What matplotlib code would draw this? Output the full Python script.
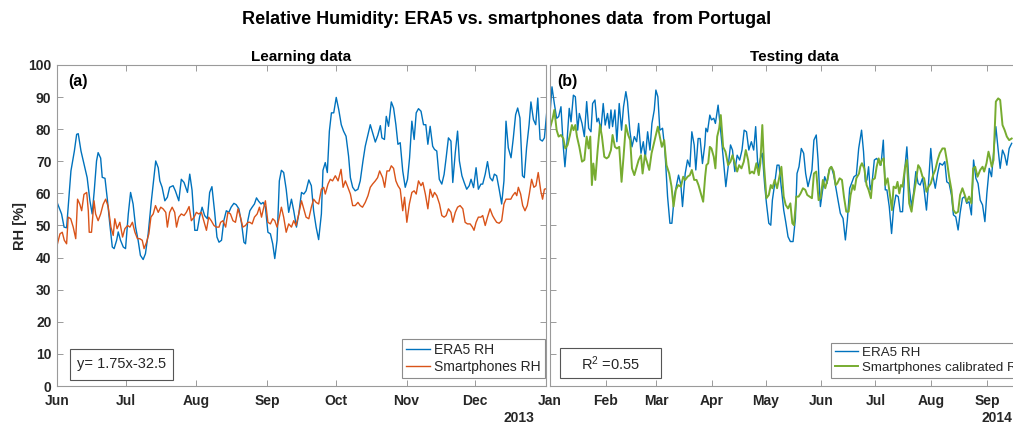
import matplotlib
matplotlib.use("Agg")
import matplotlib.pyplot as plt
from matplotlib.patches import Rectangle

plt.rcParams['font.family'] = ['Liberation Sans', 'DejaVu Sans']
plt.rcParams['mathtext.fontset'] = 'custom'
plt.rcParams['mathtext.rm'] = 'Liberation Sans'
plt.rcParams['mathtext.it'] = 'Liberation Sans'

# ---------------- data ----------------
# Learning period: day 0 = 1 Jun
era5_learn_day = [0.2,2.0,3.1,4.2,6.1,7.6,8.6,9.3,10.5,12.0,13.2,14.4,15.4,16.3,17.3,18.0,19.1,19.8,21.0,22.1,23.1,24.2,25.0,26.1,26.8,27.8,29.0,30.0,31.2,32.2,33.3,34.4,35.5,36.5,37.7,38.7,39.9,41.3,42.4,43.2,44.3,45.0,46.0,47.2,48.3,49.3,50.8,51.8,53.3,54.4,55.6,57.1,58.1,59.1,60.3,61.4,62.4,63.5,64.6,65.8,66.8,67.8,69.0,70.0,70.9,
    72.0,73.0,74.1,75.2,76.2,77.4,78.4,79.6,80.8,81.8,82.5,83.5,84.4,85.4,86.4,87.3,88.3,89.3,90.2,91.2,92.3,93.4,94.4,95.3,96.3,97.3,98.2,99.2,100.3,101.4,102.6,103.6,104.8,105.8,107.0,108.0,109.0,110.2,111.3,112.3,113.4,114.5,115.7,116.4,117.4,118.3,119.2,120.1,121.1,122.2,123.3,124.4,125.4,126.5,127.6,128.4,129.4,130.5,131.7,132.7,133.9,134.9,136.1,137.1,138.1,139.3,140.4,141.5,142.2,143.3,
    144.1,145.1,146.3,147.3,148.3,149.2,150.2,151.3,152.4,153.4,154.3,155.3,156.3,157.2,158.2,159.3,160.4,161.4,162.3,163.3,164.4,165.2,166.2,167.3,168.4,169.4,170.3,171.3,172.4,173.2,174.3,175.3,176.1,177.2,178.2,179.3,180.4,181.2,182.3,183.4,184.4,185.5,186.3,187.4,188.4,189.5,190.6,191.4,192.4,193.5,194.6,195.6,196.5,197.5,198.7,199.7,200.7,201.6,202.6,203.7,204.5,205.5,206.6,207.4,208.5,209.5,210.4,211.4,212.4,213.3,214.3]
era5_learn = [56.9,53.6,49.5,49.3,67.0,73.2,78.4,78.6,73.2,68.6,64.9,57.7,53.6,60.8,70.1,72.7,71.0,65.0,64.7,57.7,50.5,43.3,42.8,45.4,48.0,45.4,43.3,42.8,53.6,60.3,56.7,49.5,45.4,40.7,39.4,41.2,47.4,57.7,64.9,70.1,68.0,63.9,61.9,57.7,58.8,61.9,62.4,60.8,57.7,64.4,63.4,60.3,66.0,61.0,48.5,48.5,52.6,55.7,53.1,52.1,60.3,62.1,54.1,46.4,44.8,
    45.4,51.5,54.6,54.1,55.7,56.9,56.5,55.2,50.5,44.8,44.3,51.5,54.6,55.7,56.7,58.6,57.5,56.7,57.2,55.7,47.9,47.4,44.3,39.7,45.4,63.9,67.2,66.5,61.3,54.1,58.2,54.6,49.5,53.6,60.3,59.8,60.8,64.2,62.4,54.6,49.5,45.6,53.6,67.2,69.6,66.5,79.4,85.1,85.1,89.9,86.1,81.4,79.4,77.8,71.6,64.9,61.9,60.8,61.3,63.9,70.1,74.7,78.4,81.4,78.9,76.0,78.1,81.1,77.3,76.8,
    84.0,80.9,88.5,86.6,81.4,75.3,75.8,67.0,61.9,64.4,71.1,82.5,76.8,85.1,86.4,85.6,81.4,81.4,75.3,80.9,74.7,73.7,73.2,64.4,62.9,65.9,71.1,77.3,76.3,63.4,72.7,79.4,70.1,65.5,63.4,61.3,62.4,64.4,61.8,68.0,61.3,62.9,62.9,66.0,69.9,64.9,63.9,66.0,65.5,61.3,56.7,63.9,82.5,74.2,71.1,77.3,84.5,86.6,83.5,65.5,64.9,74.2,81.4,88.5,83.0,81.4,89.7,76.8,76.3,77.3,85.1]

phone_learn_day = [0.2,1.3,2.3,3.2,4.2,4.9,6.0,7.1,8.2,9.0,10.0,10.8,11.8,13.0,13.7,14.1,15.1,16.2,16.9,18.0,19.1,20.2,21.3,22.4,23.6,24.6,25.3,26.3,27.5,28.7,29.7,30.9,31.9,33.0,34.1,35.2,36.2,37.3,38.1,39.2,40.2,41.1,42.1,43.1,44.3,45.4,46.4,47.6,48.3,49.3,50.4,51.5,52.3,53.3,54.4,55.6,56.6,57.8,58.8,60.0,61.0,62.0,63.2,64.2,65.4,66.4,67.5,68.7,69.7,70.9,
    71.6,72.6,73.8,74.8,75.9,77.0,78.1,79.2,80.3,81.3,82.5,83.5,84.4,85.4,86.4,87.6,88.6,89.5,90.5,91.2,92.3,93.4,94.4,95.3,96.3,97.3,98.2,99.2,100.3,101.4,102.6,103.6,104.6,105.8,107.0,108.0,109.0,110.2,111.3,112.3,113.4,114.5,115.7,116.7,117.4,118.6,119.6,120.6,121.8,123.0,124.3,125.2,126.2,127.3,128.4,129.4,130.5,131.7,132.7,133.7,134.9,136.1,137.1,138.1,139.3,140.3,141.2,
    142.5,143.4,144.4,145.4,146.3,147.3,148.3,149.2,150.2,151.3,152.1,153.1,154.2,155.3,156.3,157.2,158.2,159.3,160.1,161.2,162.3,163.3,164.4,165.2,166.2,167.4,168.4,169.4,170.3,171.3,172.4,173.2,174.3,175.3,176.4,177.6,178.6,179.6,180.8,181.8,182.5,183.4,184.4,185.5,186.3,187.4,188.4,189.5,190.6,191.4,192.4,193.5,194.6,195.6,196.5,197.5,198.6,199.4,200.5,201.2,201.9,202.9,203.8,204.8,205.8,206.7,207.7,208.7,209.6,210.6,211.7,212.5,213.3,214.3]
phone_learn = [44.3,47.4,47.9,45.4,44.3,52.6,52.1,49.5,45.9,58.2,56.6,54.6,59.7,60.3,54.6,47.9,47.9,57.7,53.6,51.5,53.6,56.6,58.2,55.9,49.5,46.9,52.1,49.0,51.0,46.4,49.0,50.0,49.5,51.0,47.9,45.9,45.9,45.4,42.8,44.8,47.4,52.6,53.6,56.2,54.1,55.7,55.2,54.1,49.5,54.1,55.7,54.1,49.5,52.6,53.6,53.1,54.1,55.9,51.5,52.6,54.1,53.6,54.1,51.5,48.5,52.6,51.5,50.0,49.5,49.5,
    51.0,51.5,49.5,54.1,53.6,51.5,51.0,55.2,52.6,49.5,50.0,51.0,51.0,50.5,52.6,53.6,55.7,52.6,55.7,57.7,51.0,50.5,52.1,51.5,49.5,52.6,55.7,52.6,47.9,50.5,49.5,51.5,50.0,53.6,57.7,55.2,52.6,52.1,55.7,58.2,57.2,56.7,61.3,61.9,59.8,62.9,64.4,63.9,65.5,63.9,67.5,61.9,63.9,61.9,59.8,56.2,56.2,57.2,56.2,55.7,57.2,59.3,61.9,62.9,63.9,64.9,67.0,
    64.9,61.9,67.0,67.0,68.6,67.8,63.9,62.4,61.3,54.6,58.8,51.0,56.7,60.3,60.8,59.8,63.9,62.4,63.4,59.8,55.2,61.3,58.8,60.3,59.3,56.7,53.1,52.6,53.1,55.2,54.1,51.0,54.1,55.7,56.2,55.2,51.0,50.5,50.5,49.5,48.5,51.0,52.6,52.6,53.1,50.0,52.6,55.2,53.1,52.1,51.0,50.7,51.5,56.7,58.2,58.2,58.2,59.3,60.3,59.3,61.9,59.8,56.2,54.6,56.2,59.8,64.4,61.9,62.4,66.5,60.8,58.2,61.3,61.5]

# Testing period: day 0 = 1 Jan
era5_test_day = [0.0,1.1,2.4,3.7,4.8,6.1,7.4,8.3,9.4,10.7,11.7,13.0,14.1,15.4,16.3,17.8,19.1,20.4,21.5,22.8,23.7,25.0,26.1,27.0,28.3,29.6,30.7,32.0,33.0,33.9,34.8,36.1,37.2,38.5,39.8,40.9,42.2,43.1,44.4,45.6,46.9,48.2,49.3,50.6,51.9,53.0,54.3,55.6,56.7,58.0,58.9,60.0,61.1,62.6,63.9,65.4,66.7,67.8,69.1,70.4,71.5,72.8,73.7,75.2,76.5,77.8,78.9,80.2,81.1,82.4,83.5,84.8,86.1,
    86.7,87.6,88.9,89.8,91.1,92.0,93.5,94.8,96.3,97.8,99.1,100.4,101.5,102.8,104.1,105.5,106.8,108.0,109.3,110.6,112.0,113.3,114.4,115.7,117.0,118.1,119.4,120.4,121.7,122.8,123.7,125.0,126.3,127.4,128.7,130.0,131.1,132.4,133.7,135.2,136.5,137.4,138.5,139.8,141.1,142.2,143.5,144.4,145.7,146.8,148.1,149.1,150.4,151.5,152.8,154.1,155.2,156.5,157.8,158.9,160.2,161.5,163.0,164.3,165.4,166.7,168.0,169.1,170.4,171.7,
    173.3,174.4,175.4,176.3,177.2,178.1,179.1,180.4,181.7,182.8,184.1,185.4,186.5,187.4,188.7,190.0,191.1,192.4,193.7,194.8,196.1,197.4,198.5,199.8,201.1,202.2,203.5,204.8,205.9,207.2,208.1,209.4,210.6,211.8,213.1,214.3,215.6,216.8,218.3,219.6,220.7,222.0,223.3,224.4,225.7,227.0,228.1,229.4,230.7,231.8,233.1,234.4,235.6,236.9,238.1,239.3,240.6,241.9,243.0,244.3,245.6,246.7,248.0,249.3,250.4,251.7,252.9,254.1,255.4,256.8]
era5_test = [84.9,93.2,88.0,83.4,83.9,87.0,74.5,68.3,75.6,86.5,82.3,90.6,90.1,79.7,84.9,81.8,77.7,88.6,80.3,79.2,88.0,89.1,82.3,83.4,79.7,88.0,81.3,84.9,80.3,86.0,80.8,86.0,76.1,88.0,79.7,87.0,91.7,88.6,79.7,74.5,77.7,76.1,81.8,72.5,76.1,70.9,79.2,73.5,81.8,86.0,92.2,90.1,79.7,80.3,73.5,59.0,50.7,50.7,59.0,62.6,65.7,62.6,55.9,66.2,70.4,68.3,79.2,75.1,67.3,77.1,77.1,69.3,75.1,
    80.3,79.2,84.4,82.9,83.4,81.8,87.5,80.3,71.4,62.1,68.3,75.1,73.5,66.8,71.9,70.4,73.5,79.7,79.2,73.5,76.1,73.5,80.8,67.3,70.9,72.5,62.6,56.9,50.7,50.1,57.9,63.1,68.8,68.8,61.6,54.8,51.2,46.5,45.0,45.0,52.2,66.2,68.3,74.0,72.5,66.2,62.1,64.2,67.3,76.6,78.2,70.4,55.9,60.5,65.2,63.1,67.3,68.3,65.7,62.1,57.9,53.8,52.2,45.5,51.7,61.6,63.6,65.2,65.7,74.0,
    79.7,73.0,63.6,64.2,68.3,61.1,63.1,70.4,70.9,69.9,68.8,76.6,61.1,61.1,55.9,47.5,55.3,59.5,59.0,54.3,54.3,67.8,74.5,62.1,55.9,60.0,66.8,63.1,62.6,64.7,61.1,54.8,63.6,74.0,65.2,61.6,66.2,69.4,68.8,69.9,63.6,63.1,59.5,53.3,52.7,48.6,53.8,58.5,59.0,56.9,57.4,53.3,70.4,64.7,63.1,57.9,56.4,51.2,60.0,67.8,65.2,72.5,80.8,73.5,67.8,73.5,71.9,68.8,74.0,75.6]

calib_test_day = [0.0,1.5,2.4,3.7,4.8,6.1,7.4,8.5,9.8,11.1,12.2,13.1,14.1,15.0,16.3,17.8,19.1,20.4,21.5,22.4,23.3,24.1,25.2,26.5,27.8,28.9,30.2,31.5,32.6,33.9,34.8,36.1,37.2,38.5,39.8,40.9,42.2,43.5,44.6,45.6,46.9,48.2,49.3,50.6,51.5,52.8,53.9,55.2,56.5,57.6,58.9,60.0,61.1,62.2,63.5,64.8,66.3,67.6,68.7,70.0,71.3,72.8,74.1,75.2,76.5,77.8,78.9,80.2,81.5,82.6,83.9,85.2,86.3,
    87.0,88.0,88.9,89.8,91.1,92.0,93.0,94.1,95.0,96.3,97.6,99.1,100.4,101.5,102.8,104.1,105.2,106.5,107.8,108.9,110.2,111.1,112.4,113.5,114.8,116.1,117.0,118.1,119.1,120.4,121.7,122.8,123.7,125.0,126.3,127.4,128.7,130.0,131.1,132.4,133.7,134.8,135.7,137.0,138.3,139.4,140.7,142.0,143.1,144.4,145.7,146.8,148.1,149.4,150.5,151.8,153.1,154.3,155.6,156.5,157.8,158.9,159.8,161.1,162.4,163.5,164.8,166.1,167.2,168.5,169.4,170.4,171.9,
    172.6,173.5,174.8,176.1,177.2,178.5,179.4,180.7,181.7,182.8,183.7,184.6,185.6,186.5,187.8,189.1,190.2,191.1,192.4,193.3,194.3,195.2,196.1,197.4,198.5,199.8,201.1,202.2,203.5,204.8,205.9,207.2,208.1,209.4,210.6,211.8,213.1,214.3,215.6,216.8,218.3,219.6,220.7,222.0,223.3,224.4,225.7,227.0,228.1,229.4,230.7,231.8,233.1,234.4,235.4,236.5,237.8,239.3,240.6,241.5,242.8,243.9,244.8,245.7,246.7,248.0,249.3,250.4,251.7,252.9,254.1,255.4,256.8]
calib_test = [80.3,83.4,86.0,79.7,77.7,78.2,77.1,74.0,75.1,78.2,81.3,79.7,81.3,77.7,74.5,69.9,70.4,77.7,74.0,77.7,62.6,69.3,64.2,73.5,81.3,77.7,71.4,70.9,71.4,73.5,78.2,74.5,74.0,74.5,63.6,71.4,81.3,78.2,76.6,67.8,65.7,68.3,70.4,71.9,66.2,71.9,69.9,67.3,72.5,75.1,78.2,80.8,77.7,74.5,76.6,68.8,66.2,62.1,55.9,61.1,62.6,62.1,65.2,64.2,65.2,65.7,67.3,64.2,64.2,62.6,60.0,57.4,65.2,
    68.8,69.4,74.5,74.0,71.4,67.8,77.7,80.3,84.4,74.5,73.0,68.8,69.9,71.9,69.4,66.8,68.8,67.8,69.9,73.5,70.4,66.2,66.8,66.2,69.4,65.7,69.4,81.3,68.3,58.5,59.5,62.6,61.6,64.2,61.6,64.7,68.3,59.0,56.4,55.3,56.9,50.7,50.1,59.0,59.0,60.0,61.6,61.1,59.5,59.0,58.5,66.2,66.8,57.9,58.5,64.2,61.6,64.2,67.8,68.3,66.8,62.6,63.1,64.7,64.2,59.0,54.3,54.3,59.5,62.6,61.1,64.7,66.2,
    68.3,69.4,67.8,62.6,61.1,58.5,64.2,64.7,68.3,70.9,68.8,70.4,70.9,62.6,64.7,59.5,54.8,62.1,61.6,63.6,60.0,62.6,62.1,67.8,70.4,56.9,54.3,59.0,63.6,68.8,67.8,65.2,64.7,60.5,62.1,63.1,65.7,67.3,70.4,72.5,74.0,74.0,70.4,65.2,61.1,54.8,53.8,54.3,59.5,61.6,59.5,57.4,59.0,56.9,67.8,68.3,65.2,67.3,68.3,66.8,69.4,73.0,70.9,68.3,70.4,88.6,89.6,89.1,81.3,79.7,77.7,76.6,77.1]

learn_tick_days = [0, 30, 61, 92, 122, 153, 183, 214]
learn_tick_labels = ['Jun', 'Jul', 'Aug', 'Sep', 'Oct', 'Nov', 'Dec', '']
test_tick_days = [0, 31, 59, 90, 120, 151, 181, 212, 243]
test_tick_labels = ['Jan', 'Feb', 'Mar', 'Apr', 'May', 'Jun', 'Jul', 'Aug', 'Sep']
y_ticks = list(range(0, 101, 10))

# ---------------- style ----------------
C_BLUE = '#0072BD'
C_ORANGE = '#D95319'
C_GREEN = '#77AC30'
TXT = '#262626'
SPINE = '#9a9a9a'

W, H = 1013, 423
fig = plt.figure(figsize=(W / 100, H / 100), dpi=100)

def px_axes(x0, x1, y_top, y_bot):
    return fig.add_axes([x0 / W, 1 - y_bot / H, (x1 - x0) / W, (y_bot - y_top) / H])

ax1 = px_axes(57, 546, 65, 386)
ax2 = px_axes(550, 1039, 65, 386)

for ax in (ax1, ax2):
    ax.set_ylim(0, 100)
    ax.set_yticks(y_ticks)
    for s in ax.spines.values():
        s.set_color(SPINE)
        s.set_linewidth(0.8)
    ax.tick_params(direction='in', length=4, width=0.7, color=SPINE,
                   top=True, right=True, labelcolor=TXT, labelsize=10)
    ax.tick_params(axis='x', pad=6)
    ax.tick_params(axis='y', pad=4)

ax1.set_xlim(0, 214)
ax1.set_xticks(learn_tick_days)
ax1.set_xticklabels(learn_tick_labels, fontweight='bold')
ax1.set_yticklabels([str(v) for v in y_ticks], fontweight='bold')
ax2.set_xlim(0, 272)
ax2.set_xticks(test_tick_days)
ax2.set_xticklabels(test_tick_labels, fontweight='bold')
ax2.set_yticklabels([])

l1, = ax1.plot(era5_learn_day, era5_learn, color=C_BLUE, lw=1.0, label='ERA5 RH')
l2, = ax1.plot(phone_learn_day, phone_learn, color=C_ORANGE, lw=1.0, label='Smartphones RH')
l3, = ax2.plot(era5_test_day, era5_test, color=C_BLUE, lw=1.0, label='ERA5 RH')
l4, = ax2.plot(calib_test_day, calib_test, color=C_GREEN, lw=1.4, label='Smartphones calibrated RH')

ax1.set_ylabel('RH [%]', fontsize=10.5, fontweight='bold', color=TXT, labelpad=1)
ax1.set_title('Learning data', fontsize=11, fontweight='bold', color='black', pad=3)
ax2.set_title('Testing data', fontsize=11, fontweight='bold', color='black', pad=3)

leg_kw = dict(frameon=True, fancybox=False, edgecolor='#8c8c8c',
              framealpha=1, borderaxespad=0, handlelength=1.75, handletextpad=0.3,
              labelspacing=0.2, borderpad=0.3)
lg1 = ax1.legend(handles=[l1, l2], loc='lower right', bbox_to_anchor=(0.998, 0.025),
                 fontsize=10, **leg_kw)
lg2 = ax2.legend(handles=[l3, l4], loc='lower left', bbox_to_anchor=(0.5746, 0.025),
                 fontsize=9.6, **leg_kw)
for lg in (lg1, lg2):
    lg.get_frame().set_linewidth(0.8)
    for t in lg.get_texts():
        t.set_color(TXT)

# annotation boxes
ax1.add_patch(Rectangle((0.027, 0.019), 0.21, 0.097, transform=ax1.transAxes,
                        facecolor='white', edgecolor='#555555', lw=0.8, zorder=5))
ax1.text(0.132, 0.067, 'y= 1.75x-32.5', transform=ax1.transAxes, ha='center', va='center',
         fontsize=10.5, color=TXT, zorder=6)
ax2.add_patch(Rectangle((0.020, 0.025), 0.207, 0.093, transform=ax2.transAxes,
                        facecolor='white', edgecolor='#555555', lw=0.8, zorder=5))
ax2.text(0.124, 0.07, 'R$^2$ =0.55', transform=ax2.transAxes, ha='center', va='center',
         fontsize=10.5, color=TXT, zorder=6)

ax1.text(0.022, 0.95, '(a)', transform=ax1.transAxes, ha='left', va='center',
         fontsize=11.5, fontweight='bold', color='black')
ax2.text(0.014, 0.95, '(b)', transform=ax2.transAxes, ha='left', va='center',
         fontsize=11.5, fontweight='bold', color='black')

fig.text(519 / W, 1 - 418 / H, '2013', ha='center', va='center', fontsize=10,
         fontweight='bold', color=TXT)
fig.text(997 / W, 1 - 418 / H, '2014', ha='center', va='center', fontsize=10,
         fontweight='bold', color=TXT)

fig.text(507 / W, 1 - 19 / H, 'Relative Humidity: ERA5 vs. smartphones data  from Portugal',
         ha='center', va='center', fontsize=13, fontweight='bold', color='black')

fig.savefig('out.png', dpi=100, facecolor='white')
